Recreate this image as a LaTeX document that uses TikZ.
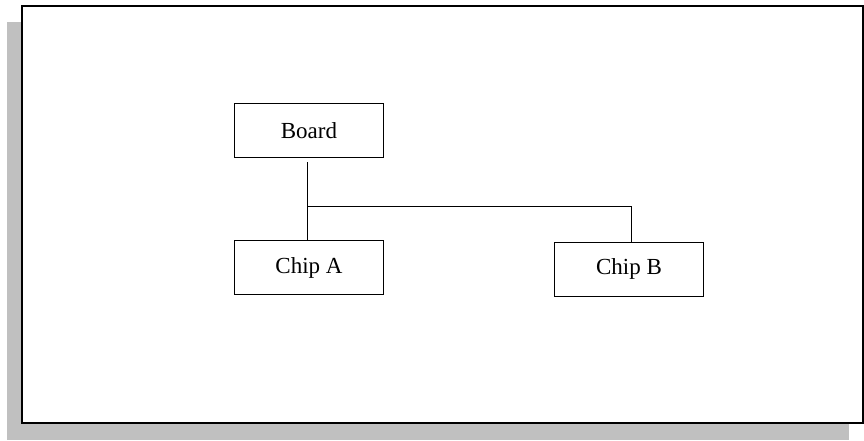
\documentclass[tikz,border=0pt]{standalone}
\usepackage{fontspec}
\setmainfont{Liberation Serif}
\usepackage{tikz}
\usetikzlibrary{positioning, calc}
\definecolor{shadowgray}{RGB}{192,192,192}

\begin{document}
\begin{tikzpicture}[
    x=1pt, y=-1pt,
    node distance=82pt and 170pt,
    unit/.style={rectangle, draw=black, line width=1pt, fill=white,
                 minimum height=54pt, minimum width=149pt, inner sep=0pt,
                 align=center, font=\fontsize{23}{27}\selectfont},
    link/.style={draw=black, line width=1pt},
    frame/.style={draw=black, line width=2pt, fill=white},
]
    \useasboundingbox (0,0) rectangle (864,440);
    \fill[shadowgray] (7,22) rectangle (849,440);
    \draw[frame] (22.3,6) rectangle (862.5,423);

    \node[unit] (board) at (309,130.5) {Board};
    \node[unit, below=of board] (chipa) {Chip A};
    \node[unit, right=of chipa, yshift=-1.5pt] (chipb) {Chip B};

    \coordinate (tee) at (307,206);
    \draw[link] ([xshift=-2pt, yshift=-4pt]board.south) -- ([xshift=-2pt]chipa.north);
    \draw[link] (tee) -| ([xshift=2.5pt]chipb.north);
\end{tikzpicture}
\end{document}
